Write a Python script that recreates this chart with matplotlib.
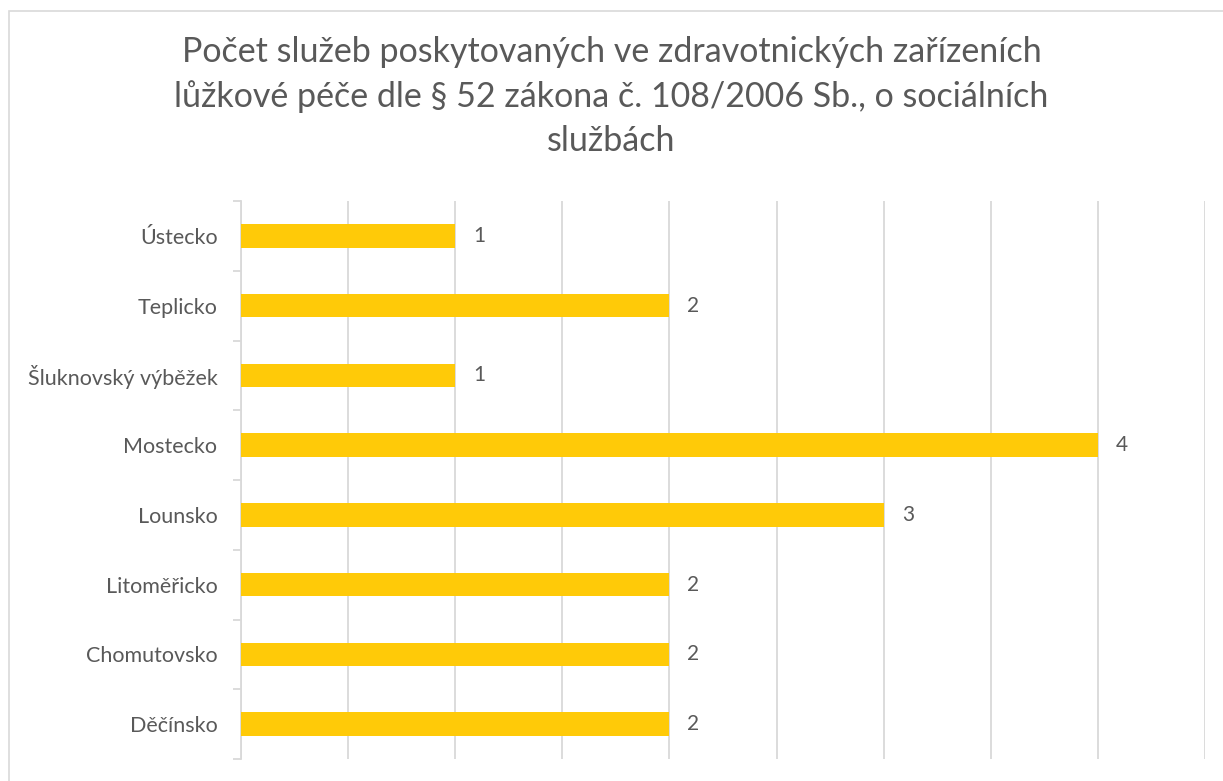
import numpy as np
import matplotlib.pyplot as plt
from matplotlib.patches import Rectangle

# data, top to bottom as in the chart
regions = ['Ústecko', 'Teplicko', 'Šluknovský výběžek', 'Mostecko',
           'Lounsko', 'Litoměřicko', 'Chomutovsko', 'Děčínsko']
services = [1, 2, 1, 4, 3, 2, 2, 2]

title = ('Počet služeb poskytovaných ve zdravotnických zařízeních\n'
         'lůžkové péče dle § 52 zákona č. 108/2006 Sb., o sociálních\n'
         'službách')

plt.rcParams['font.family'] = ['Lato', 'DejaVu Sans']
grey = '#595959'
light = '#D9D9D9'

fig = plt.figure(figsize=(12.23, 7.81), dpi=100)
fig.patches.append(Rectangle((9 / 1223, -0.1), 1.2, 1.1 - 11 / 781,
                             transform=fig.transFigure, fill=False,
                             edgecolor=light, linewidth=1.2))

ax = fig.add_axes([241 / 1223, 1 - 759 / 781, (1205 - 241) / 1223, (759 - 201) / 781])

y = np.arange(len(regions))
bars = ax.barh(y, services, height=0.34, color='#FFCA08', zorder=3)
ax.bar_label(bars, padding=13, fontsize=15, color=grey)

ax.set_ylim(len(regions) - 0.5, -0.5)
ax.set_xlim(0, 4.5)
ax.set_xticks(np.arange(0, 4.51, 0.5))
ax.tick_params(axis='x', length=0, labelbottom=False)
ax.grid(axis='x', color=light, linewidth=1.3, zorder=0)

ax.set_yticks(y)
ax.set_yticklabels(regions, fontsize=15.5, color=grey)
ax.set_yticks(np.arange(-0.5, len(regions)), minor=True)
ax.tick_params(axis='y', which='major', length=0, pad=17)
ax.tick_params(axis='y', which='minor', length=6, color=light, width=1.3)

for s in ['top', 'right', 'bottom']:
    ax.spines[s].set_visible(False)
ax.spines['left'].set_color(light)
ax.spines['left'].set_linewidth(1.3)

fig.text(0.5, 1 - 36 / 781, title, ha='center', va='top', fontsize=24.5,
         color=grey, linespacing=1.45)

fig.savefig('out.png', dpi=100)
